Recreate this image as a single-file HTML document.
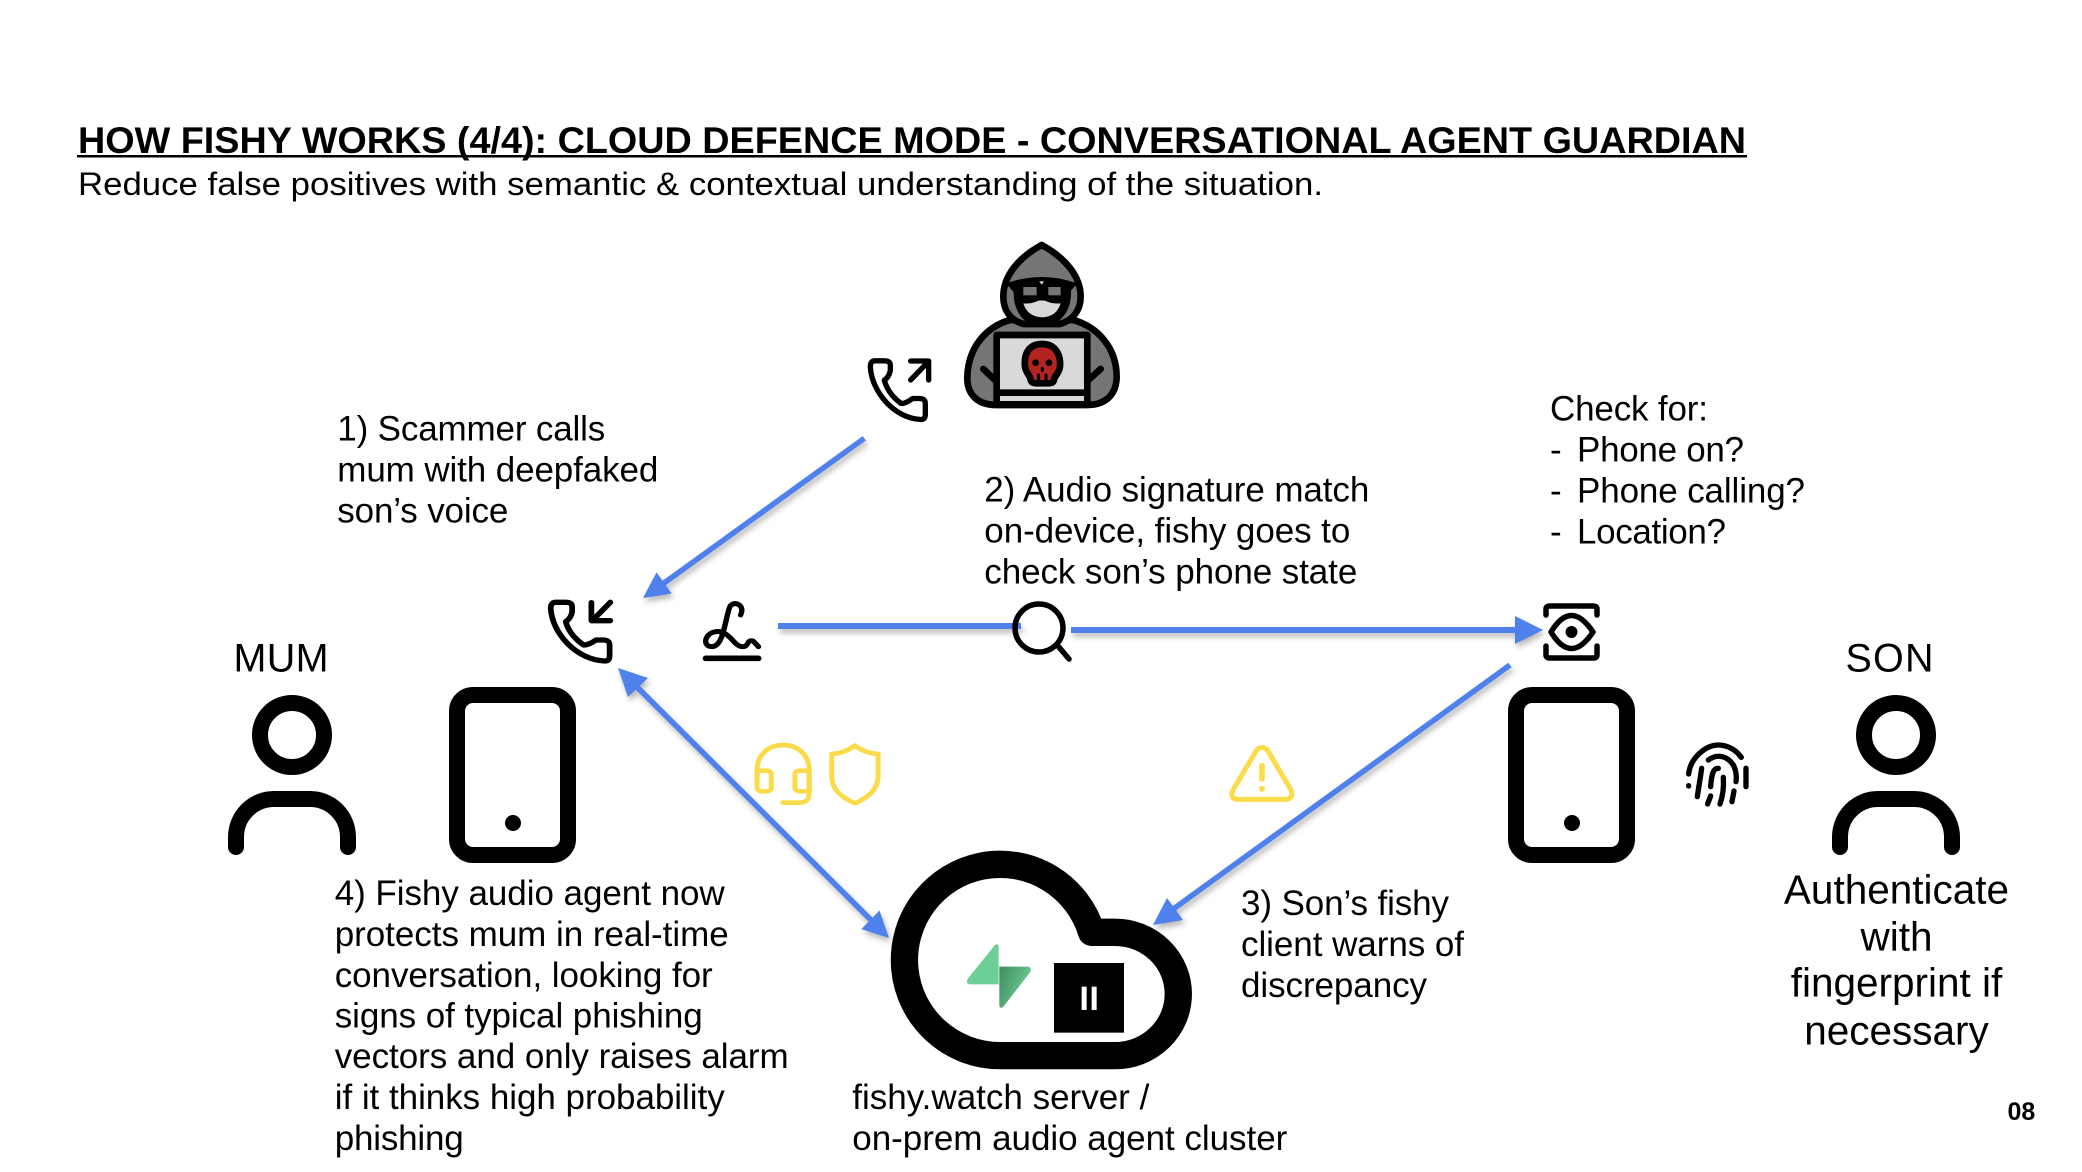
<!DOCTYPE html>
<html><head><meta charset="utf-8"><style>
html,body{margin:0;padding:0;background:#fff;width:2082px;height:1172px;overflow:hidden}
svg{display:block}
text{font-family:"Liberation Sans",sans-serif;fill:#000}
.b{font-size:35px}
</style></head><body>
<svg width="2082" height="1172" viewBox="0 0 2082 1172" xmlns="http://www.w3.org/2000/svg">
<defs>
<linearGradient id="sg" x1="0" y1="0" x2="1" y2="0.5"><stop offset="0" stop-color="#3f8a5e"/><stop offset="1" stop-color="#6ecf96"/></linearGradient>
<path id="handset" d="M100 67H72Q58 67 58 85C62 160 130 240 210 243Q223 243 223 228V195Q223 180 205 180H185Q165 195 150 195Q110 165 100 125Q115 115 118 95V80Q118 67 100 67Z" fill="none" stroke="#000" stroke-width="16" stroke-linejoin="round"/>
<g id="person" fill="none" stroke="#000" stroke-width="16" stroke-linecap="round">
<circle cx="292" cy="735" r="32"/>
<path d="M236 847V837A38 38 0 0 1 274 799H310A38 38 0 0 1 348 837V847"/>
</g>
<g id="phone"><rect x="457" y="695" width="111" height="160" rx="16" fill="none" stroke="#000" stroke-width="16"/><circle cx="513" cy="823" r="8"/></g>
</defs>

<!-- title -->
<text x="78" y="153" font-size="37" font-weight="700" textLength="1668" lengthAdjust="spacingAndGlyphs">HOW FISHY WORKS (4/4): CLOUD DEFENCE MODE - CONVERSATIONAL AGENT GUARDIAN</text>
<rect x="77" y="155" width="1670" height="2.500" fill="#000"/>
<text x="78" y="195" font-size="32" textLength="1245" lengthAdjust="spacingAndGlyphs">Reduce false positives with semantic &amp; contextual understanding of the situation.</text>

<!-- hacker -->
<g transform="translate(840 220) scale(.3333)" stroke="#000" stroke-width="20" stroke-linejoin="round" stroke-linecap="round">
<path d="M470 555C400 555 380 510 382 470C385 380 440 320 510 300H700C770 320 830 380 830 470C830 510 810 555 740 555Z" fill="#757575"/>
<path d="M605 75C540 110 490 165 490 230C490 270 510 300 550 312H660C700 300 722 270 722 230C722 165 670 110 605 75Z" fill="#757575"/>
<path d="M505 192Q605 158 705 192L685 215H525Z" fill="#000" stroke-width="8"/>
<path d="M532 200C525 270 560 310 607 310C650 310 690 270 682 200Z" fill="#000"/>
<rect x="550" y="201" width="40" height="25" fill="#757575" stroke="none"/>
<rect x="625" y="201" width="37" height="25" fill="#757575" stroke="none"/>
<polygon points="598,184 612,184 605,194" fill="#ddd" stroke="none"/>
<path d="M550 250Q570 252 585 246Q605 236 625 246Q640 252 662 250Q650 290 607 292Q562 290 550 250Z" fill="#d9d9d9" stroke="none"/>
<rect x="470" y="345" width="272" height="208" fill="#d9d9d9"/>
<path d="M470 518H742M430 447L465 480M782 447L745 480" fill="none"/>
<path d="M607 372C560 372 552 410 555 440C558 460 570 465 572 480Q575 490 590 490H625Q640 490 642 480C645 465 658 460 660 440C663 410 650 372 607 372Z" fill="#b3231f"/>
<circle cx="587" cy="428" r="10" fill="#000" stroke="none"/>
<circle cx="627" cy="428" r="10" fill="#000" stroke="none"/>
<path d="M596 465V485M618 465V485" stroke-width="9" fill="none"/>
<path d="M607 445V452" stroke-width="9" fill="none"/>
</g>

<!-- outgoing call -->
<g transform="translate(841 222.500) scale(.3333) translate(30 348)"><use href="#handset"/></g>
<g transform="translate(840 221) scale(.3333)" fill="none" stroke="#000" stroke-width="16" stroke-linecap="round" stroke-linejoin="round">
<path d="M212 477L266 421M212 420H266V477"/></g>

<!-- incoming call -->
<g transform="translate(530 580) scale(.357 .3333)"><use href="#handset"/>
<path d="M225 67L178 118M172 68V122H225" fill="none" stroke="#000" stroke-width="16" stroke-linecap="round" stroke-linejoin="round"/></g>

<!-- signature -->
<g transform="translate(530 580) scale(.357 .3333)" fill="none" stroke="#000" stroke-width="15" stroke-linecap="round" stroke-linejoin="round">
<path d="M590 105C605 72 565 58 558 85C545 130 540 200 510 200C482 200 488 160 520 155C560 150 570 200 595 200C615 200 605 178 625 183L640 200"/>
<path d="M492 235H640" stroke-width="17"/>
</g>

<!-- arrows -->
<g style="filter:drop-shadow(2px 4px 3px rgba(0,0,0,.28))">
<path d="M864.300 438.300L660 586" stroke="#4f81ec" stroke-width="5.500" fill="none"/>
<polygon points="643,598 671.700,593.600 656.500,572.400" fill="#4f81ec"/>
<path d="M778 626H1021" stroke="#4f81ec" stroke-width="6" fill="none"/>
<path d="M1071 630H1520" stroke="#4f81ec" stroke-width="6" fill="none"/>
<polygon points="1543,630 1515,616 1515,644" fill="#4f81ec"/>
<path d="M1510 665L1165 915" stroke="#4f81ec" stroke-width="5.500" fill="none"/>
<polygon points="1153,925 1167,898 1183,920" fill="#4f81ec"/>
<path d="M634 684L873 922" stroke="#4f81ec" stroke-width="5.500" fill="none"/>
<polygon points="618,668 648,678 628,697" fill="#4f81ec"/>
<polygon points="889,938 879.500,910.500 861.300,929.100" fill="#4f81ec"/>
</g>

<!-- magnifier -->
<g fill="none" stroke="#000" stroke-width="5.500" stroke-linecap="round">
<circle cx="1039" cy="628" r="24"/>
<path d="M1058 646L1069 659"/>
</g>

<!-- eye -->
<g fill="none" stroke="#000" stroke-width="5.500" stroke-linecap="round" stroke-linejoin="round">
<path d="M1546 615V609Q1546 606 1550 606H1593Q1597 606 1597 609V615"/>
<path d="M1546 646V655Q1546 658 1550 658H1593Q1597 658 1597 655V646"/>
<path d="M1551 632Q1571 599 1593 632Q1571 665 1551 632Z"/>
</g>
<circle cx="1571.500" cy="632" r="6"/>

<!-- fingerprint -->
<g transform="translate(1500 590) scale(.3333)" fill="none" stroke="#000" stroke-width="16" stroke-linecap="round">
<path d="M566 552C572 500 620 465 655 465C685 465 710 482 724 502"/>
<path d="M625 510C650 492 680 495 700 525C708 540 710 560 708 575"/>
<path d="M738 535V590"/>
<path d="M566 587V588"/>
<path d="M605 535C600 570 595 600 592 620"/>
<path d="M655 535C640 535 635 550 632 590"/>
<path d="M670 562C672 590 668 620 660 642"/>
<path d="M702 603L696 635"/>
<path d="M632 618L623 642"/>
</g>

<!-- people & phones -->
<use href="#person"/>
<use href="#person" transform="translate(1604 0)"/>
<use href="#phone"/>
<use href="#phone" transform="translate(1059 0)"/>

<!-- yellow icons -->
<g transform="translate(530 580) scale(.357 .3333)" fill="none" stroke="#fbdb4a" stroke-width="14" stroke-linecap="round" stroke-linejoin="round">
<path d="M636 600V570C636 470 782 470 782 570V640Q782 668 755 668H708"/>
<rect x="636" y="572" width="40" height="62" rx="12"/>
<rect x="742" y="572" width="40" height="62" rx="12"/>
<path d="M910 497Q880 520 845 522V590Q845 640 910 670Q975 640 975 590V522Q940 520 910 497Z"/>
</g>
<g transform="translate(1215 735) scale(.3333)" fill="none" stroke="#fbdb4a" stroke-width="15" stroke-linecap="round" stroke-linejoin="round">
<path d="M125 45Q141 30 157 45L228 165Q238 193 208 193H72Q42 193 54 165Z"/>
<path d="M141 92V132" stroke-width="17"/>
<path d="M141 161V162" stroke-width="17"/>
</g>

<!-- cloud -->
<g transform="translate(880 840) scale(.3333)">
<path d="M360 647H705A190 185 0 0 0 705 277H635A287 287 0 1 0 360 647Z" fill="none" stroke="#000" stroke-width="82" stroke-linejoin="round"/>
<path d="M345 315Q355 308 356 322V433H272Q255 433 264 415Z" fill="#6ecf96"/>
<path d="M358 380H440Q458 380 450 397L372 498Q360 510 358 495Z" fill="url(#sg)"/>
<rect x="522" y="369" width="210" height="209" fill="#000"/>
<rect x="605" y="440" width="15" height="70" fill="#fff"/>
<rect x="635" y="440" width="15" height="70" fill="#fff"/>
</g>

<!-- labels -->
<g class="b">
<text class="b" x="337.300" y="440.400" textLength="268">1) Scammer calls</text>
<text class="b" x="337.300" y="481.400" textLength="321">mum with deepfaked</text>
<text class="b" x="337.300" y="522.400" textLength="171">son’s voice</text>

<text class="b" x="984.300" y="501.300" textLength="385">2) Audio signature match</text>
<text class="b" x="984.300" y="542.300" textLength="366">on-device, fishy goes to</text>
<text class="b" x="984.300" y="583.300" textLength="373">check son’s phone state</text>

<text class="b" x="1550" y="420.300" textLength="158">Check for:</text>
<text class="b" x="1550" y="461.300">-</text><text class="b" x="1577" y="461.300" textLength="167">Phone on?</text>
<text class="b" x="1550" y="502.300">-</text><text class="b" x="1577" y="502.300" textLength="228">Phone calling?</text>
<text class="b" x="1550" y="543.300">-</text><text class="b" x="1577" y="543.300" textLength="149">Location?</text>

<text class="b" x="334.700" y="905" textLength="390">4) Fishy audio agent now</text>
<text class="b" x="334.700" y="946" textLength="394">protects mum in real-time</text>
<text class="b" x="334.700" y="987" textLength="378">conversation, looking for</text>
<text class="b" x="334.700" y="1027.500" textLength="368">signs of typical phishing</text>
<text class="b" x="334.700" y="1068" textLength="454">vectors and only raises alarm</text>
<text class="b" x="334.700" y="1109" textLength="390">if it thinks high probability</text>
<text class="b" x="334.700" y="1150" textLength="129">phishing</text>

<text class="b" x="1241" y="915" textLength="208">3) Son’s fishy</text>
<text class="b" x="1241" y="956" textLength="223">client warns of</text>
<text class="b" x="1241" y="997" textLength="186">discrepancy</text>

<text class="b" x="852.300" y="1109" textLength="297">fishy.watch server /</text>
<text class="b" x="852.300" y="1150" textLength="435">on-prem audio agent cluster</text>
</g>
<text x="233.500" y="671.700" font-size="39.500" textLength="95">MUM</text>
<text x="1845.500" y="671.700" font-size="39.500" textLength="88">SON</text>
<g font-size="40.500" text-anchor="middle">
<text x="1896.500" y="903.500">Authenticate</text>
<text x="1896.500" y="950.500">with</text>
<text x="1896.500" y="996.500">fingerprint if</text>
<text x="1896.500" y="1044.500">necessary</text>
</g>
<text x="2007.500" y="1120" font-size="25" font-weight="700">08</text>
</svg>
</body></html>
